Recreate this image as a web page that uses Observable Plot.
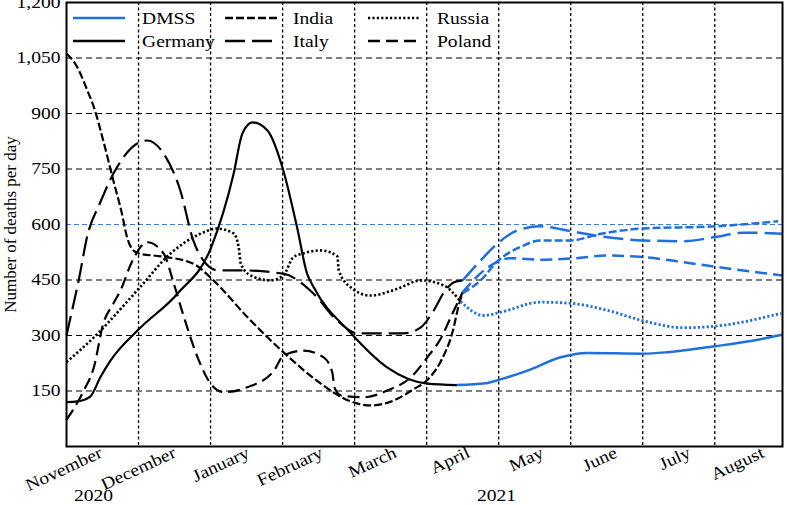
<!DOCTYPE html>
<html><head><meta charset="utf-8">
<script src="https://cdn.jsdelivr.net/npm/d3@7"></script>
<script src="https://cdn.jsdelivr.net/npm/@observablehq/plot@0.6"></script>
<style>
body{margin:0;background:#fff}
#chart{position:relative;width:787px;height:505px;overflow:hidden}
</style>
</head><body><div id="chart"></div>
<script>
// ---- tick labels ----
const monthLabels = ["November","December","January","February","March","April","May","June","July","August"];
const yearLabels = ["2020","2021"];
const yearMonthPos = [0.375, 5.97];
const yTickValues = [150,300,450,600,750,900,1050,1200];
const yTitle = "Number of deaths per day";

// ---- series: t = months since 1 Nov 2020, v = deaths per day ----
const germanyT = [0,0.15,0.33,0.47,0.61,1.01,1.54,2.01,2.32,2.44,2.58,2.79,3.01,3.20,3.34,3.43,3.94,4.45,5.01,5.42];
const germanyV = [120,122,135,187,232,318,413,539,737,845,876,854,746,593,467,431,308,214,170,166];
const dmssGermanyT = [5.42,5.82,6.0,6.4,6.86,7.23,8.0,8.35,9.0,9.5,9.93];
const dmssGermanyV = [166,171,180,205,241,253,251,255,271,285,302];

const indiaT = [0,0.15,0.29,0.38,0.51,0.65,0.77,0.84,0.91,1.01,1.31,1.76,2.04,2.51,3.01,3.53,3.85,4.04,4.22,4.54,4.82,5.01,5.19,5.36,5.45,5.5];
const indiaV = [1062,1025,962,917,827,719,629,566,534,521,514,494,449,350,255,170,130,116,111,124,155,180,228,310,385,415];
const dmssIndiaT = [5.5,5.75,5.98,6.31,6.58,7.0,7.42,8.0,9.0,9.88];
const dmssIndiaV = [415,449,500,540,557,557,575,589,595,609];

const italyT = [0,0.08,0.17,0.29,0.47,0.65,1.01,1.12,1.35,1.58,1.76,1.9,2.1,2.42,3.01,3.43,3.76,4.04,4.68,4.92,5.08,5.26,5.38,5.5];
const italyV = [300,370,450,570,660,737,822,827,791,692,557,503,476,476,467,413,340,306,306,322,362,422,444,449];
const dmssItalyT = [5.5,5.75,5.98,6.26,6.58,7.0,7.42,8.0,8.57,9.0,9.4,9.94];
const dmssItalyV = [449,503,548,584,595,582,568,557,555,566,578,575];

const russiaT = [0,0.38,1.01,1.44,1.86,2.09,2.32,2.39,2.42,2.56,2.83,3.01,3.15,3.27,3.53,3.76,3.78,3.94,4.22,4.59,4.92,5.24,5.47];
const russiaV = [228,295,428,521,575,589,576,539,494,462,449,462,512,521,530,514,476,431,408,426,449,435,392];
const dmssRussiaT = [5.47,5.79,6.03,6.58,7.0,7.51,8.0,8.57,9.0,9.92];
const dmssRussiaV = [392,354,363,390,387,368,340,321,325,360];

const polandT = [0,0.24,0.38,0.51,0.65,0.75,0.91,1.12,1.35,1.49,1.63,1.82,2.0,2.18,2.51,2.88,3.01,3.29,3.57,3.69,3.72,3.81,4.13,4.45,4.78,5.01,5.19,5.36,5.5];
const polandV = [72,151,214,332,386,422,500,552,521,440,350,241,170,147,160,205,245,259,241,200,160,138,133,151,187,241,290,360,417];
const dmssPolandT = [5.5,5.85,6.17,6.58,7.0,7.51,8.0,8.57,9.0,9.94];
const dmssPolandV = [417,484,509,505,508,516,512,498,486,462];

// ---- styling ----
const BLUE = "#1f6fde";
const FONT = "'Liberation Serif','Times New Roman',serif";
const dashes = {Germany: "none", India: "8,3", Italy: "20,7", Russia: "2.2,2.2", Poland: "12,6"};

const rows = (T, V) => T.map((t, i) => ({t, v: V[i]}));
const series = [
  {name: "Italy", hist: rows(italyT, italyV), fc: rows(dmssItalyT, dmssItalyV)},
  {name: "Poland", hist: rows(polandT, polandV), fc: rows(dmssPolandT, dmssPolandV)},
  {name: "India", hist: rows(indiaT, indiaV), fc: rows(dmssIndiaT, dmssIndiaV)},
  {name: "Russia", hist: rows(russiaT, russiaV), fc: rows(dmssRussiaT, dmssRussiaV)},
  {name: "Germany", hist: rows(germanyT, germanyV), fc: rows(dmssGermanyT, dmssGermanyV)}
];

const lineOrder = [];
const lineMarks = [];
for (const s of series) {
  lineOrder.push(s.name);
  lineMarks.push(Plot.line(s.hist, {x: "t", y: "v", stroke: "black", strokeWidth: s.name === "Russia" ? 2.6 : 2.2,
    strokeDasharray: dashes[s.name], curve: "monotone-x"}));
}
for (const s of series) {
  lineOrder.push(s.name);
  lineMarks.push(Plot.line(s.fc, {x: "t", y: "v", stroke: BLUE, strokeWidth: s.name === "Russia" ? 2.8 : 2.5,
    strokeDasharray: dashes[s.name], curve: "monotone-x"}));
}

const monthIdx = monthLabels.map((d, i) => i);
const gridMonths = monthIdx.filter(i => i > 0);
const gridValues = yTickValues.filter(v => v !== 600 && v !== 1200);
const labelSpread = 1.021; // tick labels are spaced slightly wider than the grid

const chart = Plot.plot({
  width: 787, height: 505,
  marginLeft: 66, marginRight: 5, marginTop: 2, marginBottom: 59,
  x: {domain: [0, 9.94], axis: null},
  y: {domain: [0, 1200], axis: null},
  style: {fontFamily: FONT, fontSize: "17px", background: "white", color: "black", overflow: "visible"},
  marks: [
    Plot.ruleY(gridValues, {stroke: "black", strokeWidth: 1.2, strokeDasharray: "6,4"}),
    Plot.ruleY([600], {stroke: "#3b7fd8", strokeWidth: 1, strokeDasharray: "5,3"}),
    Plot.ruleX(gridMonths, {stroke: "black", strokeWidth: 1.3, strokeDasharray: "3,2.5"}),
    ...lineMarks,
    Plot.frame({stroke: "black", strokeWidth: 2}),
    Plot.text(yTickValues, {y: d => d, text: d => d3.format(",")(d), frameAnchor: "left", textAnchor: "end", dx: -6, fill: "black"}),
    Plot.text(monthLabels, {x: (d, i) => i * labelSpread, text: d => d, frameAnchor: "bottom", rotate: -25, textAnchor: "end", lineAnchor: "bottom", dx: 37, dy: 10, fill: "black"}),
    Plot.text(yearLabels, {x: (d, i) => yearMonthPos[i], text: d => d, frameAnchor: "bottom", textAnchor: "middle", lineAnchor: "bottom", dy: 54, fill: "black"}),
    Plot.text([yTitle], {text: d => d, frameAnchor: "left", rotate: -90, textAnchor: "middle", lineAnchor: "bottom", dx: -51, fill: "black"})
  ]
});
document.getElementById("chart").appendChild(chart);
const svg = d3.select(chart);

// force each series path to carry its dash pattern (inline style wins)
svg.selectAll('g[aria-label="line"]').each(function(_, i) {
  const name = lineOrder[i];
  if (!name) return;
  d3.select(this).selectAll("path").each(function() {
    this.style.strokeDasharray = dashes[name];
    this.style.strokeLinecap = "butt";
    this.style.strokeLinejoin = "round";
  });
});

// ---- legend (inside plot, top-left) ----
const legendItems = [
  {name: "DMSS", color: BLUE, dash: "none", col: 0, row: 0},
  {name: "Germany", color: "black", dash: "none", col: 0, row: 1},
  {name: "India", color: "black", dash: dashes.India, col: 1, row: 0},
  {name: "Italy", color: "black", dash: dashes.Italy, col: 1, row: 1},
  {name: "Russia", color: "black", dash: dashes.Russia, col: 2, row: 0},
  {name: "Poland", color: "black", dash: dashes.Poland, col: 2, row: 1}
];
const colX = [73, 225, 368];
const colTextX = [142, 293, 437];
const rowY = [18, 41];
const lg = svg.append("g").attr("font-family", FONT).attr("font-size", 17).attr("text-anchor", "start");
for (const it of legendItems) {
  lg.append("line")
    .attr("x1", colX[it.col]).attr("x2", colX[it.col] + 52)
    .attr("y1", rowY[it.row]).attr("y2", rowY[it.row])
    .attr("stroke", it.color).attr("stroke-width", it.name === "Russia" ? 2.6 : 2.4)
    .attr("stroke-dasharray", it.dash);
  lg.append("text").attr("x", colTextX[it.col]).attr("y", rowY[it.row] + 6)
    .attr("text-anchor", "start").attr("fill", "black").text(it.name);
}

// widen horizontal text slightly to match reference glyph proportions
svg.selectAll("text").each(function() {
  const t = this.textContent;
  if (t === yTitle) return;
  const L = this.getComputedTextLength();
  if (L > 0) {
    this.setAttribute("textLength", (L * 1.15).toFixed(1));
    this.setAttribute("lengthAdjust", "spacingAndGlyphs");
  }
});
</script>
</body></html>
